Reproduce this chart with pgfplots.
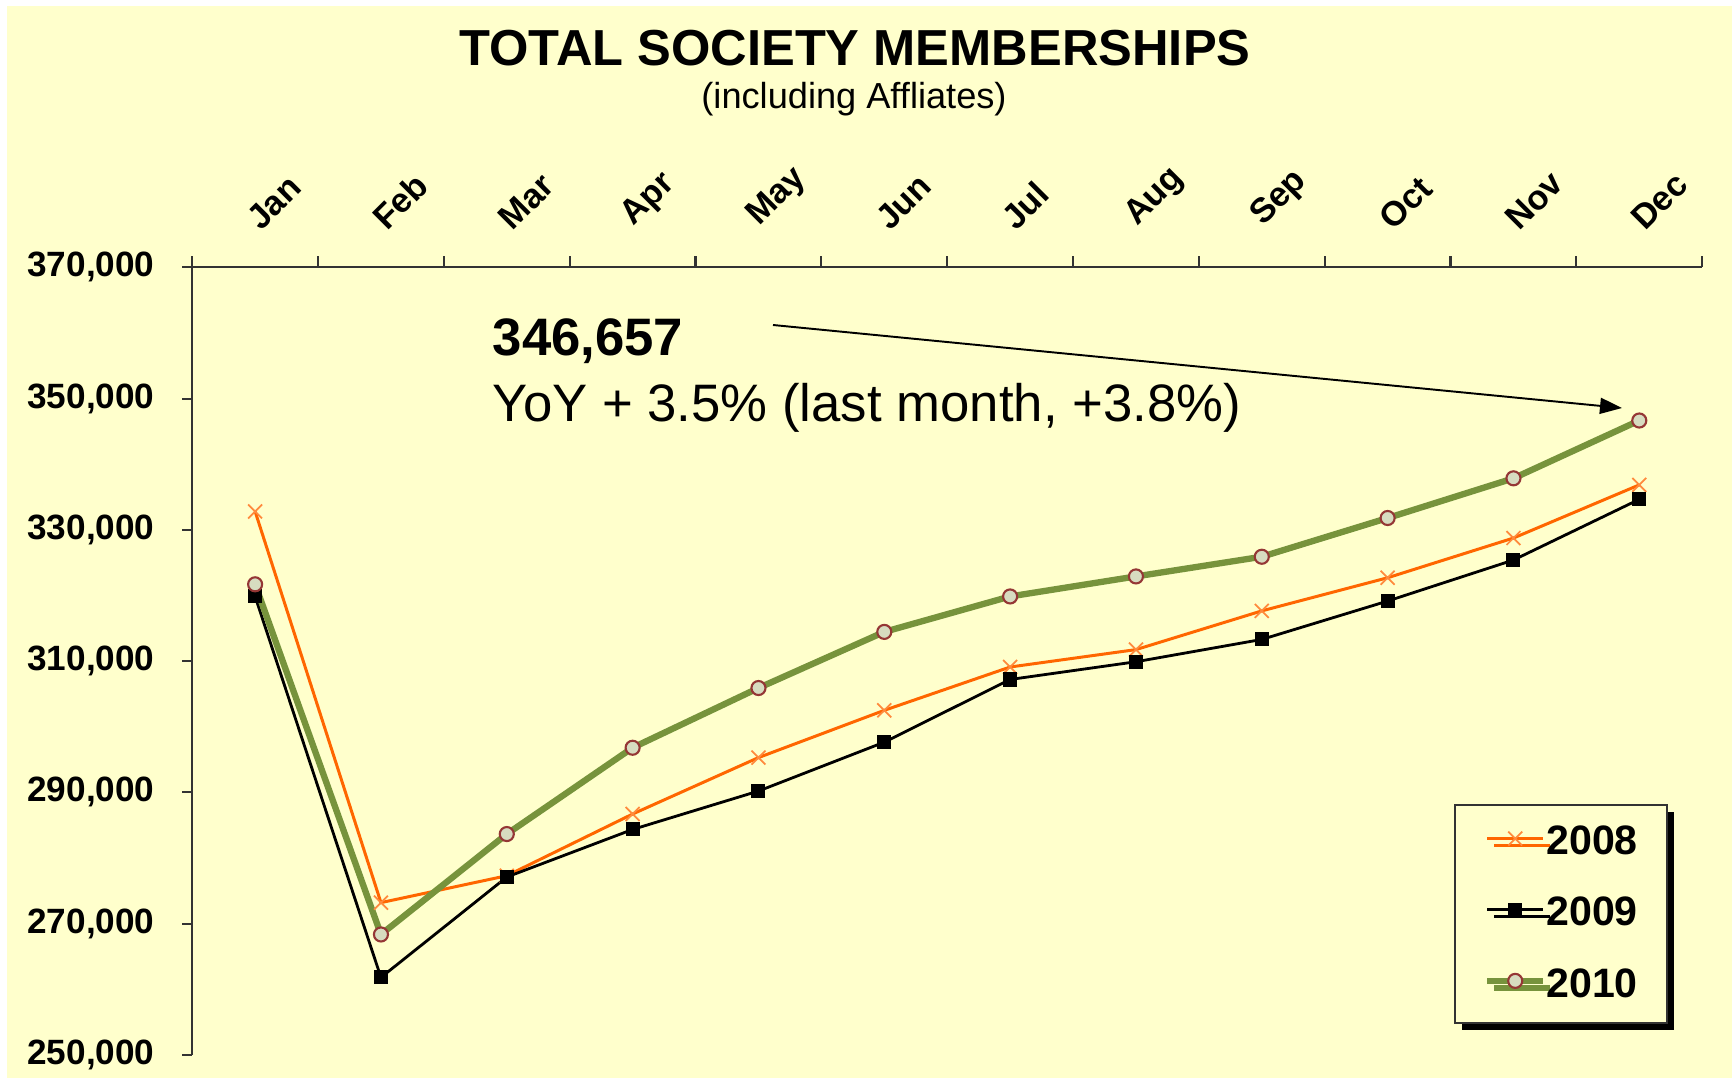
\documentclass[border=0pt]{standalone}
\usepackage{pgfplots}
\pgfplotsset{compat=1.18}
\usepackage{pgfplotstable}
\usepackage{fontspec}
\setmainfont{Liberation Sans}
\usetikzlibrary{shadows,arrows.meta}
\definecolor{bg}{HTML}{FFFFCC}
\definecolor{c08}{HTML}{FF6600}
\definecolor{c08m}{HTML}{FF8A3D}
\definecolor{c10}{HTML}{77933C}
\definecolor{c10edge}{HTML}{953735}
\definecolor{c10fill}{HTML}{D7DCC0}
\definecolor{axisc}{HTML}{333333}

\pgfplotstableread{
month y08 y09 y10
1 332800 319850 321700
2 273200 261800 268350
3 277300 277100 283650
4 286700 284350 296800
5 295300 290200 305900
6 302500 297650 314450
7 309100 307200 319850
8 311750 309900 322900
9 317650 313300 325900
10 322700 319150 331800
11 328750 325400 337850
12 336850 334650 346657
}\members

\begin{document}
\begin{tikzpicture}
\useasboundingbox (0,0) rectangle (173.2mm,107.9mm);
\fill[white] (0,0) rectangle (173.2mm,107.9mm);
\fill[bg] (0.7mm,0.1mm) rectangle (173.2mm,107.3mm);
\node[anchor=base, inner sep=0pt, font=\bfseries\fontsize{14.4}{16}\selectfont] at (85.5mm,101.3mm) {TOTAL SOCIETY MEMBERSHIPS};
\node[anchor=base, inner sep=0pt, font=\fontsize{10.3}{12}\selectfont] at (85.4mm,97.05mm) {(including Affliates)};
\begin{axis}[
  at={(19.22mm,2.41mm)}, anchor=south west,
  scale only axis, width=151mm, height=78.76mm,
  xmin=0.5, xmax=12.5, ymin=250000, ymax=370000,
  axis x line=top, axis y line=left,
  axis line style={-, draw=axisc, line width=0.6pt},
  tick align=outside,
  major tick length=1.0mm,
  minor tick length=1.1mm,
  xtick={1,...,12},
  xticklabels={Jan,Feb,Mar,Apr,May,Jun,Jul,Aug,Sep,Oct,Nov,Dec},
  major x tick style={draw=none},
  minor xtick={0.5,1.5,...,12.5},
  minor x tick style={draw=axisc, line width=0.6pt},
  ytick={250000,270000,290000,310000,330000,350000,370000},
  yticklabels={{250,000},{270,000},{290,000},{310,000},{330,000},{350,000},{370,000}},
  y tick style={draw=axisc, line width=0.6pt},
  yticklabel style={anchor=east, inner sep=0pt, xshift=-2.7mm, font=\bfseries\fontsize{10}{12}\selectfont},
  xticklabel style={xshift=0.63mm, yshift=2.43mm, rotate=45, anchor=south west, inner sep=0pt, font=\bfseries\fontsize{9.8}{12}\selectfont},
  clip=false,
  legend style={at={(0.9773,0.3186)}, anchor=north east, draw=axisc, line width=0.6pt, fill=bg,
    drop shadow={shadow xshift=0.7mm, shadow yshift=-0.7mm, fill=black, opacity=1},
    font=\bfseries\fontsize{11.7}{13}\selectfont,
    inner xsep=2.9mm, inner ysep=2.1mm, row sep=3.72mm,
    nodes={inner sep=0pt}},
  legend cell align=left,
  legend image code/.code={\draw[mark repeat=2, mark phase=2] plot coordinates {(0mm,0.45mm) (2.8mm,0.45mm) (5.6mm,0.45mm)};},
]
\addplot[c08, line width=0.85pt, mark=x, mark size=2.8pt, mark options={draw=c08m, line width=0.5pt}] table[x=month, y=y08] {\members};
\addlegendentry{2008}
\addplot[black, line width=0.8pt, mark=square*, mark size=1.6pt, mark options={fill=black}] table[x=month, y=y09] {\members};
\addlegendentry{2009}
\addplot[c10, line width=1.8pt, mark=*, mark size=2.0pt, mark options={fill=c10fill, draw=c10edge, line width=0.6pt}] table[x=month, y=y10] {\members};
\addlegendentry{2010}
\end{axis}
\node[anchor=base west, inner sep=0pt, font=\bfseries\fontsize{15}{18}\selectfont] at (49.2mm,72.3mm) {346,657};
\node[anchor=base west, inner sep=0pt, font=\fontsize{15}{18}\selectfont] at (49.2mm,65.7mm) {YoY + 3.5\% (last month, +3.8\%)};
\draw[-{Triangle[length=2.2mm,width=1.6mm]}, line width=0.55pt] (77.3mm,75.4mm) -- (162.2mm,67.1mm);
\end{tikzpicture}
\end{document}
